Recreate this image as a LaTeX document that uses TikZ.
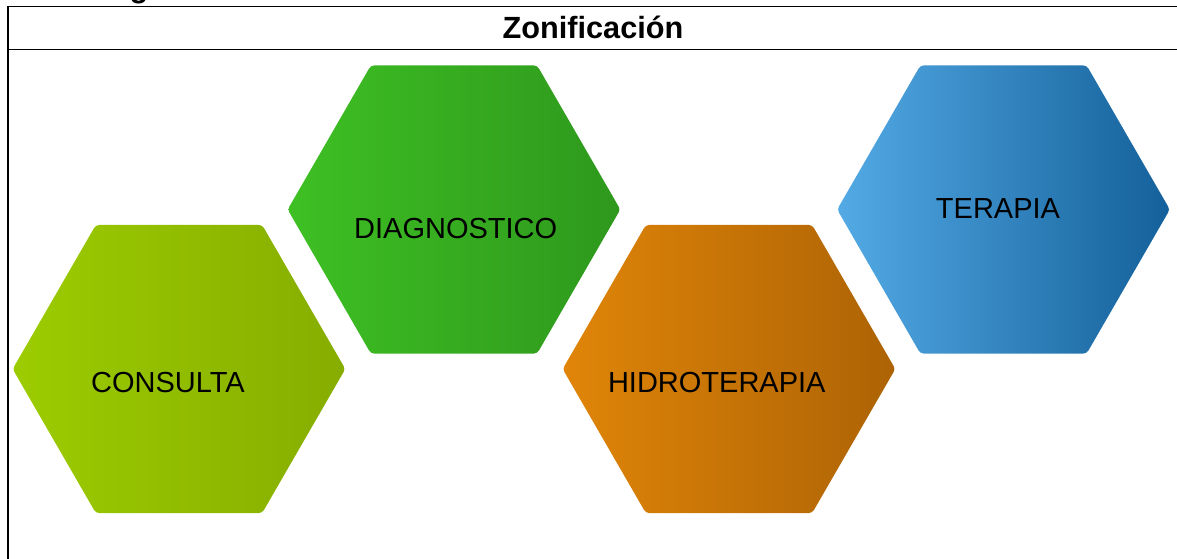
\documentclass[tikz,border=0pt]{standalone}
\usepackage{fontspec}
\setmainfont{Liberation Sans}
\usetikzlibrary{shapes.geometric, calc}
\definecolor{consultaL}{HTML}{9CCC00}
\definecolor{consultaR}{HTML}{86AD00}
\definecolor{diagnosL}{HTML}{3EC023}
\definecolor{diagnosR}{HTML}{2E981D}
\definecolor{hidroL}{HTML}{E08508}
\definecolor{hidroR}{HTML}{AD6305}
\definecolor{terapiaL}{HTML}{53AAE5}
\definecolor{terapiaR}{HTML}{14609A}
\tikzset{
    hexa/.style={regular polygon, regular polygon sides=6, minimum size=249.5pt, inner sep=0pt, rounded corners=2.5pt},
    zonetext/.style={anchor=base, inner sep=0pt, font=\fontsize{21.75}{26}\selectfont, text=black},
    titletext/.style={anchor=base, inner sep=0pt, font=\bfseries\fontsize{23}{27}\selectfont},
    frame/.style={draw=black, line width=1.3pt},
}

\begin{document}
\begin{tikzpicture}[x=0.75pt, y=-0.75pt]
    \clip (0,0) rectangle (1177,558);
    \useasboundingbox (0,0) rectangle (1177,558);

    % Table frame
    \draw[frame] (8,562) -- (8,6.5) -- (1180,6.5);
    \draw[frame] (8,49.5) -- (1180,49.5);
    \node[titletext] (caption) at (139,-2.2) {g};
    \node[titletext] (title) at (593,38.3) {Zonificación};

    % Hexagons
    \node[hexa, left color=consultaL, right color=consultaR] (consulta) at (179,369) {};
    \node[hexa, left color=diagnosL, right color=diagnosR] (diagnostico) at (454,209.5) {};
    \node[hexa, left color=hidroL, right color=hidroR] (hidroterapia) at (729,369) {};
    \node[hexa, left color=terapiaL, right color=terapiaR] (terapia) at (1003.5,209.5) {};

    % Labels
    \node[zonetext] (consultaT) at ($(consulta)+(-11,23.7)$) {CONSULTA};
    \node[zonetext] (diagnosticoT) at ($(diagnostico)+(1.7,28.8)$) {DIAGNOSTICO};
    \node[zonetext] (hidroterapiaT) at ($(hidroterapia)+(-12.2,23.7)$) {HIDROTERAPIA};
    \node[zonetext] (terapiaT) at ($(terapia)+(-5.5,8.8)$) {TERAPIA};
\end{tikzpicture}
\end{document}
